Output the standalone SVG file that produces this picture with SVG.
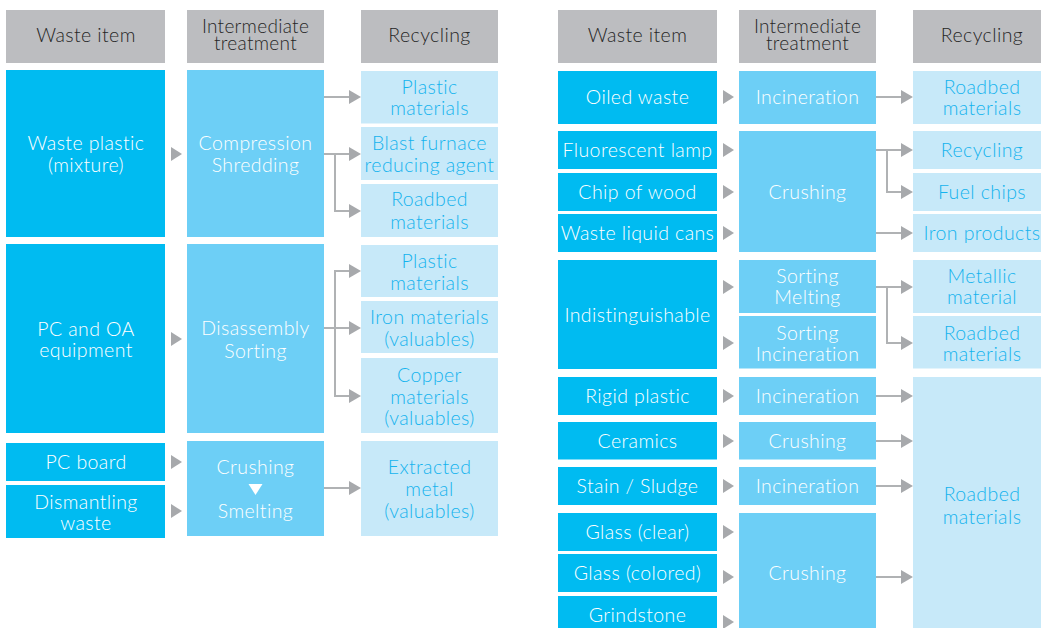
<svg xmlns="http://www.w3.org/2000/svg" width="1041" height="628" viewBox="0 0 1041 628">
<style>
.hd{fill:#BCBDC0}
.b1{fill:#00BBF1}
.b2{fill:#6DCFF6}
.b3{fill:#C7E9F9}
text{font-family:Lato,"Liberation Sans",sans-serif;font-size:19.5px;font-weight:300;letter-spacing:0.4px;text-anchor:middle}
.th{fill:#262626}
.th2{fill:#262626;font-size:19px;letter-spacing:0.3px}
.tw{fill:#FFFFFF}
.tc{fill:#14B3EE}
.tri{fill:#A7A9AC}
.ln{fill:none;stroke:#B0B2B4;stroke-width:2;marker-end:url(#ah)}
</style>
<defs>
<marker id="ah" markerWidth="12" markerHeight="14" refX="0" refY="7" orient="auto" markerUnits="userSpaceOnUse"><path d="M0,0 L12,7 L0,14 Z" fill="#A7A9AC"/></marker>
<path id="rt" d="M0,-7 L11,0 L0,7 Z"/>
</defs>
<rect width="1041" height="628" fill="#FFFFFF"/>

<!-- LEFT PANEL headers -->
<g id="hdr-l-waste"><rect class="hd" x="6" y="10" width="159" height="53"/><text class="th" x="86" y="42">Waste item</text></g>
<g id="hdr-l-inter"><rect class="hd" x="187" y="10" width="137" height="53"/><text class="th2" x="255.5" y="32.5">Intermediate</text><text class="th2" x="255.5" y="49.5">treatment</text></g>
<g id="hdr-l-rec"><rect class="hd" x="361" y="10" width="137" height="53"/><text class="th" x="429.5" y="42">Recycling</text></g>

<!-- Row: waste plastic -->
<g id="l-wasteplastic"><rect class="b1" x="6" y="70" width="159" height="167"/><text class="tw" x="86" y="150">Waste plastic</text><text class="tw" x="86" y="172">(mixture)</text></g>
<g id="l-compression"><rect class="b2" x="187" y="70" width="137" height="167"/><text class="tw" x="255.5" y="150">Compression</text><text class="tw" x="255.5" y="172">Shredding</text></g>
<g id="l-plastic1"><rect class="b3" x="361" y="71" width="137" height="52.5"/><text class="tc" x="429.5" y="94">Plastic</text><text class="tc" x="429.5" y="115">materials</text></g>
<g id="l-blast"><rect class="b3" x="361" y="127" width="137" height="53"/><text class="tc" x="429.5" y="150">Blast furnace</text><text class="tc" x="429.5" y="172">reducing agent</text></g>
<g id="l-roadbed1"><rect class="b3" x="361" y="184" width="137" height="53"/><text class="tc" x="429.5" y="206">Roadbed</text><text class="tc" x="429.5" y="229">materials</text></g>

<!-- Row: PC and OA -->
<g id="l-pcoa"><rect class="b1" x="6" y="244" width="159" height="189"/><text class="tw" x="86" y="336">PC and OA</text><text class="tw" x="86" y="357">equipment</text></g>
<g id="l-disassembly"><rect class="b2" x="187" y="244" width="137" height="189"/><text class="tw" x="255.5" y="335">Disassembly</text><text class="tw" x="255.5" y="358">Sorting</text></g>
<g id="l-plastic2"><rect class="b3" x="361" y="245" width="137" height="52"/><text class="tc" x="429.5" y="268">Plastic</text><text class="tc" x="429.5" y="290">materials</text></g>
<g id="l-iron"><rect class="b3" x="361" y="301" width="137" height="52"/><text class="tc" x="429.5" y="324">Iron materials</text><text class="tc" x="429.5" y="346">(valuables)</text></g>
<g id="l-copper"><rect class="b3" x="361" y="358" width="137" height="75"/><text class="tc" x="429.5" y="382">Copper</text><text class="tc" x="429.5" y="404">materials</text><text class="tc" x="429.5" y="425">(valuables)</text></g>

<!-- Row: PC board -->
<g id="l-pcboard"><rect class="b1" x="6" y="443" width="159" height="38"/><text class="tw" x="86" y="469">PC board</text></g>
<g id="l-dismantling"><rect class="b1" x="6" y="485" width="159" height="53"/><text class="tw" x="86" y="509">Dismantling</text><text class="tw" x="86" y="530">waste</text></g>
<g id="l-crushsmelt"><rect class="b2" x="187" y="441" width="137" height="95"/><text class="tw" x="255.5" y="474">Crushing</text><path d="M248.5,484 L262.5,484 L255.5,495 Z" fill="#FFFFFF"/><text class="tw" x="255.5" y="518">Smelting</text></g>
<g id="l-extracted"><rect class="b3" x="361" y="441" width="137" height="95"/><text class="tc" x="429.5" y="474">Extracted</text><text class="tc" x="429.5" y="496">metal</text><text class="tc" x="429.5" y="518">(valuables)</text></g>

<!-- RIGHT PANEL headers -->
<g id="hdr-r-waste"><rect class="hd" x="558" y="10" width="159" height="53"/><text class="th" x="637.5" y="42">Waste item</text></g>
<g id="hdr-r-inter"><rect class="hd" x="739" y="10" width="137" height="53"/><text class="th2" x="807.5" y="32.5">Intermediate</text><text class="th2" x="807.5" y="49.5">treatment</text></g>
<g id="hdr-r-rec"><rect class="hd" x="913" y="10" width="138" height="53"/><text class="th" x="982" y="42">Recycling</text></g>

<g id="r-oiled"><rect class="b1" x="558" y="71" width="159" height="53"/><text class="tw" x="637.5" y="104">Oiled waste</text></g>
<g id="r-incin1"><rect class="b2" x="739" y="71" width="137" height="53"/><text class="tw" x="807.5" y="104">Incineration</text></g>
<g id="r-roadbed1"><rect class="b3" x="913" y="71" width="138" height="53"/><text class="tc" x="982" y="94">Roadbed</text><text class="tc" x="982" y="115">materials</text></g>

<g id="r-fluor"><rect class="b1" x="558" y="131" width="159" height="38"/><text class="tw" x="637.5" y="157">Fluorescent lamp</text></g>
<g id="r-chip"><rect class="b1" x="558" y="173" width="159" height="38"/><text class="tw" x="637.5" y="199">Chip of wood</text></g>
<g id="r-cans"><rect class="b1" x="558" y="214" width="159" height="38"/><text class="tw" x="637.5" y="240">Waste liquid cans</text></g>
<g id="r-crush1"><rect class="b2" x="739" y="131" width="137" height="121"/><text class="tw" x="807.5" y="199">Crushing</text></g>
<g id="r-recycling"><rect class="b3" x="913" y="131" width="138" height="38"/><text class="tc" x="982" y="157">Recycling</text></g>
<g id="r-fuel"><rect class="b3" x="913" y="173" width="138" height="38"/><text class="tc" x="982" y="199">Fuel chips</text></g>
<g id="r-ironprod"><rect class="b3" x="913" y="214" width="138" height="38"/><text class="tc" x="982" y="240">Iron products</text></g>

<g id="r-indist"><rect class="b1" x="558" y="260" width="159" height="109"/><text class="tw" x="637.5" y="322">Indistinguishable</text></g>
<g id="r-sortmelt"><rect class="b2" x="739" y="260" width="137" height="53"/><text class="tw" x="807.5" y="283">Sorting</text><text class="tw" x="807.5" y="304">Melting</text></g>
<g id="r-sortincin"><rect class="b2" x="739" y="316" width="137" height="52.5"/><text class="tw" x="807.5" y="340">Sorting</text><text class="tw" x="807.5" y="361">Incineration</text></g>
<g id="r-metallic"><rect class="b3" x="913" y="260" width="138" height="53"/><text class="tc" x="982" y="283">Metallic</text><text class="tc" x="982" y="304">material</text></g>
<g id="r-roadbed2"><rect class="b3" x="913" y="316" width="138" height="52.5"/><text class="tc" x="982" y="340">Roadbed</text><text class="tc" x="982" y="361">materials</text></g>

<g id="r-rigid"><rect class="b1" x="558" y="377" width="159" height="38"/><text class="tw" x="637.5" y="403">Rigid plastic</text></g>
<g id="r-incin2"><rect class="b2" x="739" y="377" width="137" height="38"/><text class="tw" x="807.5" y="403">Incineration</text></g>
<g id="r-ceramics"><rect class="b1" x="558" y="422" width="159" height="37.5"/><text class="tw" x="637.5" y="448">Ceramics</text></g>
<g id="r-crush2"><rect class="b2" x="739" y="422" width="137" height="37.5"/><text class="tw" x="807.5" y="448">Crushing</text></g>
<g id="r-stain"><rect class="b1" x="558" y="467" width="159" height="38"/><text class="tw" x="637.5" y="493">Stain / Sludge</text></g>
<g id="r-incin3"><rect class="b2" x="739" y="467" width="137" height="38"/><text class="tw" x="807.5" y="493">Incineration</text></g>
<g id="r-glassclear"><rect class="b1" x="558" y="513" width="159" height="38"/><text class="tw" x="637.5" y="539">Glass (clear)</text></g>
<g id="r-glasscol"><rect class="b1" x="558" y="554" width="159" height="38"/><text class="tw" x="637.5" y="580">Glass (colored)</text></g>
<g id="r-grind"><rect class="b1" x="558" y="596" width="159" height="32"/><text class="tw" x="637.5" y="622">Grindstone</text></g>
<g id="r-crush3"><rect class="b2" x="739" y="513" width="137" height="115"/><text class="tw" x="807.5" y="580">Crushing</text></g>
<g id="r-roadbed3"><rect class="b3" x="913" y="377" width="138" height="251"/><text class="tc" x="982" y="501">Roadbed</text><text class="tc" x="982" y="524">materials</text></g>

<g id="connectors">
<use href="#rt" class="tri" x="171" y="154"/>
<use href="#rt" class="tri" x="171" y="339"/>
<use href="#rt" class="tri" x="171" y="462"/>
<use href="#rt" class="tri" x="171" y="511"/>
<use href="#rt" class="tri" x="723" y="97"/>
<use href="#rt" class="tri" x="723" y="150"/>
<use href="#rt" class="tri" x="723" y="192"/>
<use href="#rt" class="tri" x="723" y="233"/>
<use href="#rt" class="tri" x="723" y="287"/>
<use href="#rt" class="tri" x="723" y="343"/>
<use href="#rt" class="tri" x="723" y="396"/>
<use href="#rt" class="tri" x="723" y="441"/>
<use href="#rt" class="tri" x="723" y="486"/>
<use href="#rt" class="tri" x="723" y="532"/>
<use href="#rt" class="tri" x="723" y="577"/>
<use href="#rt" class="tri" x="723" y="622"/>

<path class="ln" d="M324,97 H349"/>
<path class="ln" d="M324,154 H349"/>
<path class="ln" d="M335,154 V211 H349"/>
<path class="ln" d="M324,328 H349"/>
<path class="ln" d="M349,271 H335 V396 H349"/>
<path class="ln" d="M335,271 H349"/>
<path class="ln" d="M324,488 H349"/>

<path class="ln" d="M876,97 H901"/>
<path class="ln" d="M876,150 H901"/>
<path class="ln" d="M887,150 V192 H901"/>
<path class="ln" d="M876,233 H901"/>
<path class="ln" d="M876,287 H901"/>
<path class="ln" d="M887,287 V343 H901"/>
<path class="ln" d="M876,396 H901"/>
<path class="ln" d="M876,441 H901"/>
<path class="ln" d="M876,486 H901"/>
<path class="ln" d="M876,577 H901"/>
</g>
</svg>
